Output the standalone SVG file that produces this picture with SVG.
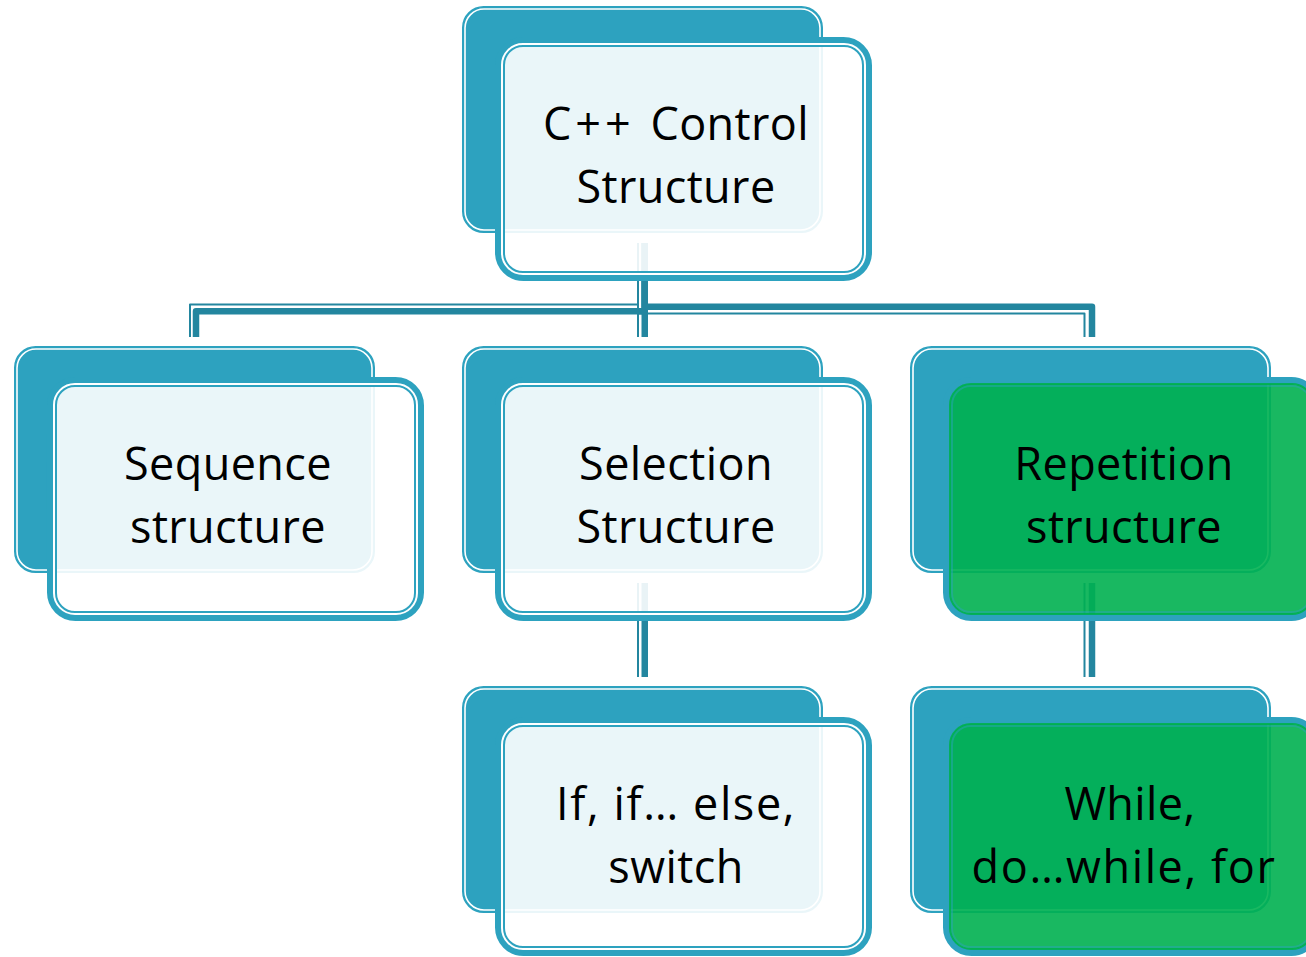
<svg xmlns="http://www.w3.org/2000/svg" width="1306" height="957" viewBox="0 0 1306 957">
  <style>
    .back { fill: #2DA2BF; stroke: #2DA2BF; stroke-width: 1.5; }
    .back-hl { fill: none; stroke: #FFFFFF; stroke-width: 1.6; }
    .frame { fill: none; stroke: #2DA2BF; stroke-width: 7; }
    .face { fill: #FFFFFF; fill-opacity: 0.9; stroke: #FFFFFF; stroke-width: 2; }
    .face-green { fill: #00B050; fill-opacity: 0.9; stroke: #00B050; stroke-opacity: 0.9; stroke-width: 2; }
    .rim { fill: none; stroke: #2DA2BF; stroke-width: 2; }
    .rim-green { fill: none; stroke: #2DA2BF; stroke-opacity: 0.45; stroke-width: 2; }
    .label { font-family: "Open Sans", "Noto Sans", "Liberation Sans", sans-serif; font-size: 45px; fill: #000000; text-anchor: middle; letter-spacing: 0.4px; }
    .wide { letter-spacing: 1.6px; }
    .wire-thick { fill: none; stroke: #23869F; stroke-width: 6.5; stroke-linejoin: round; }
    .wire-thin { fill: none; stroke: #23869F; stroke-width: 2; stroke-linejoin: round; }
  </style>

  <!-- connectors: thick-thin compound lines -->
  <g id="connectors">
    <!-- root to Sequence -->
    <path class="wire-thick" d="M644.75,243 V311.25 H196 V337"/>
    <path class="wire-thin" d="M638,243 V304.5 H190 V337"/>
    <!-- root to Repetition -->
    <path class="wire-thick" d="M644.75,243 V306.75 H1092 V337"/>
    <path class="wire-thin" d="M638,243 V313.5 H1084.5 V337"/>
    <!-- root to Selection -->
    <path class="wire-thick" d="M644.75,243 V337"/>
    <path class="wire-thin" d="M638,243 V337"/>
    <!-- Selection to If/else/switch -->
    <path class="wire-thick" d="M644.75,583 V677"/>
    <path class="wire-thin" d="M638,583 V677"/>
    <!-- Repetition to loops -->
    <path class="wire-thick" d="M1092,583 V677"/>
    <path class="wire-thin" d="M1084.5,583 V677"/>
  </g>

  <!-- root -->
  <g id="node-root" transform="translate(462,6)">
    <rect class="back" x="0.75" y="0.75" width="359.5" height="225.5" rx="21"/>
    <rect class="back-hl" x="3" y="3" width="355" height="221" rx="19"/>
    <rect class="frame" x="36.5" y="34.5" width="370" height="237" rx="25"/>
    <rect class="face" x="40" y="38" width="363" height="230" rx="21"/>
    <rect class="rim" x="42" y="40" width="359" height="226" rx="19"/>
    <text class="label" x="214" y="134"><tspan letter-spacing="4">C++ </tspan>Control</text>
    <text class="label" x="214" y="197">Structure</text>
  </g>

  <!-- sequence -->
  <g id="node-sequence" transform="translate(14,346)">
    <rect class="back" x="0.75" y="0.75" width="359.5" height="225.5" rx="21"/>
    <rect class="back-hl" x="3" y="3" width="355" height="221" rx="19"/>
    <rect class="frame" x="36.5" y="34.5" width="370" height="237" rx="25"/>
    <rect class="face" x="40" y="38" width="363" height="230" rx="21"/>
    <rect class="rim" x="42" y="40" width="359" height="226" rx="19"/>
    <text class="label" x="214" y="134">Sequence</text>
    <text class="label" x="214" y="197">structure</text>
  </g>

  <!-- selection -->
  <g id="node-selection" transform="translate(462,346)">
    <rect class="back" x="0.75" y="0.75" width="359.5" height="225.5" rx="21"/>
    <rect class="back-hl" x="3" y="3" width="355" height="221" rx="19"/>
    <rect class="frame" x="36.5" y="34.5" width="370" height="237" rx="25"/>
    <rect class="face" x="40" y="38" width="363" height="230" rx="21"/>
    <rect class="rim" x="42" y="40" width="359" height="226" rx="19"/>
    <text class="label" x="214" y="134">Selection</text>
    <text class="label" x="214" y="197">Structure</text>
  </g>

  <!-- repetition -->
  <g id="node-repetition" transform="translate(910,346)">
    <rect class="back" x="0.75" y="0.75" width="359.5" height="225.5" rx="21"/>
    <rect class="back-hl" x="3" y="3" width="355" height="221" rx="19"/>
    <rect class="frame" x="36.5" y="34.5" width="370" height="237" rx="25"/>
    <rect class="face-green" x="40" y="38" width="363" height="230" rx="21"/>
    <rect class="rim-green" x="42" y="40" width="359" height="226" rx="19"/>
    <text class="label" x="214" y="134">Repetition</text>
    <text class="label" x="214" y="197">structure</text>
  </g>

  <!-- if / else / switch -->
  <g id="node-if" transform="translate(462,686)">
    <rect class="back" x="0.75" y="0.75" width="359.5" height="225.5" rx="21"/>
    <rect class="back-hl" x="3" y="3" width="355" height="221" rx="19"/>
    <rect class="frame" x="36.5" y="34.5" width="370" height="232" rx="25"/>
    <rect class="face" x="40" y="38" width="363" height="225" rx="21"/>
    <rect class="rim" x="42" y="40" width="359" height="221" rx="19"/>
    <text class="label wide" x="214" y="134">If, if… else,</text>
    <text class="label" x="214" y="197">switch</text>
  </g>

  <!-- loops -->
  <g id="node-loops" transform="translate(910,686)">
    <rect class="back" x="0.75" y="0.75" width="359.5" height="225.5" rx="21"/>
    <rect class="back-hl" x="3" y="3" width="355" height="221" rx="19"/>
    <rect class="frame" x="36.5" y="34.5" width="370" height="232" rx="25"/>
    <rect class="face-green" x="40" y="38" width="363" height="225" rx="21"/>
    <rect class="rim-green" x="42" y="40" width="359" height="221" rx="19"/>
    <text class="label" x="220" y="134">While,</text>
    <text class="label wide" x="214" y="197">do…while, for</text>
  </g>
</svg>
